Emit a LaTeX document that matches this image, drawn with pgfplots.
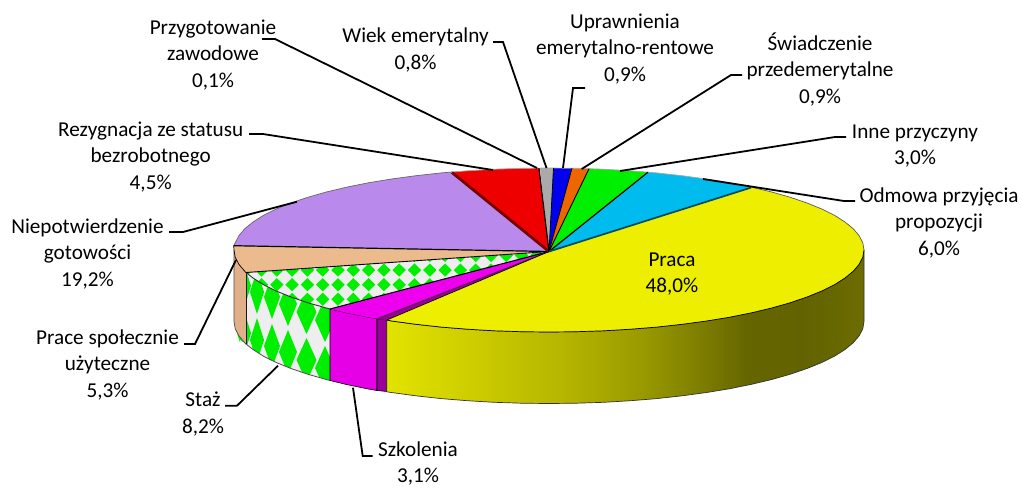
\documentclass[border=0pt]{standalone}
\usepackage{fontspec}
\setmainfont{Carlito}
\usepackage{pgfplots}
\pgfplotsset{compat=1.18}
\usetikzlibrary{patterns}
\definecolor{ys1}{HTML}{E3E300}
\definecolor{ys2}{HTML}{B6B600}
\definecolor{ys3}{HTML}{9A9A00}
\definecolor{ys4}{HTML}{7E7E00}
\definecolor{ys5}{HTML}{666600}
\definecolor{ys6}{HTML}{626200}
\definecolor{ys7}{HTML}{6C6C00}
\definecolor{cY}{HTML}{EEEE00}
\definecolor{cC}{HTML}{00BBEE}
\definecolor{cG}{HTML}{00EE00}
\definecolor{cO}{HTML}{EE6600}
\definecolor{cB}{HTML}{0000EE}
\definecolor{cS}{HTML}{AAAAAA}
\definecolor{cR}{HTML}{EE0000}
\definecolor{cRd}{HTML}{740000}
\definecolor{cP}{HTML}{B98AEB}
\definecolor{cT}{HTML}{EBBB8D}
\definecolor{cTs}{HTML}{E2B088}
\definecolor{cM}{HTML}{EE00EE}
\definecolor{cMs}{HTML}{E600E6}
\definecolor{cMd}{HTML}{990099}
\definecolor{cW}{HTML}{EEEEEE}
\pgfdeclarehorizontalshading{yellowside}{100bp}{color(0bp)=(ys1);color(25bp)=(ys1);color(43.2bp)=(ys2);color(51.6bp)=(ys3);color(57.8bp)=(ys4);color(62.6bp)=(ys5);color(68.3bp)=(ys6);color(75bp)=(ys7);color(100bp)=(ys7)}
\pgfdeclarepatternformonly{topdiamonds}{\pgfpoint{-10bp}{-10bp}}{\pgfpoint{26bp}{26bp}}{\pgfpoint{15.3bp}{14.6bp}}{%
  \pgfpathmoveto{\pgfpoint{8.1bp}{14.3bp}}%
  \pgfpathlineto{\pgfpoint{1.4bp}{20.9bp}}%
  \pgfpathlineto{\pgfpoint{-5.3bp}{14.3bp}}%
  \pgfpathlineto{\pgfpoint{1.4bp}{7.7bp}}%
  \pgfpathclose\pgfusepath{fill}}
\begin{document}
\begin{tikzpicture}
\begin{axis}[scale only axis,width=1022bp,height=484bp,xmin=0,xmax=1022,ymin=0,ymax=484,y dir=reverse,hide axis,clip=false,
  nodes={font=\fontsize{21.2bp}{26.5bp}\selectfont,align=center,text=black}]
% page
\addplot[fill=white,draw=none] coordinates {(0,0) (1022,0) (1022,484) (0,484)} -- cycle;
% Staz side
\addplot[fill=cW,draw=none] coordinates {(246,272.5) (253,278) (263.5,284.7) (276.2,291) (291,297) (307.7,302.7) (326.3,308) (330,309) (330,380.5) (326.3,379.5) (307.7,374.2) (291,368.5) (276.2,362.5) (263.5,356.2) (253,349.5) (246,344)} -- cycle;
\addplot[fill=cG,draw=none] coordinates {(244,264) (251,286) (244,308) (237,286)} -- cycle;
\addplot[fill=cG,draw=none] coordinates {(244,311) (251,333) (244,355) (237,333)} -- cycle;
\addplot[fill=cG,draw=none] coordinates {(257,270) (264,292) (257,314) (250,292)} -- cycle;
\addplot[fill=cG,draw=none] coordinates {(257,318) (264,340) (257,362) (250,340)} -- cycle;
\addplot[fill=cG,draw=none] coordinates {(272,275) (280,297) (272,319) (264,297)} -- cycle;
\addplot[fill=cG,draw=none] coordinates {(272,324) (280,346) (272,368) (264,346)} -- cycle;
\addplot[fill=cG,draw=none] coordinates {(288,282) (297,304) (288,326) (279,304)} -- cycle;
\addplot[fill=cG,draw=none] coordinates {(288,330) (297,352) (288,374) (279,352)} -- cycle;
\addplot[fill=cG,draw=none] coordinates {(306.5,290) (316.5,312) (306.5,334) (296.5,312)} -- cycle;
\addplot[fill=cG,draw=none] coordinates {(306.5,338) (316.5,360) (306.5,382) (296.5,360)} -- cycle;
\addplot[fill=cG,draw=none] coordinates {(325,298) (335,320) (325,342) (315,320)} -- cycle;
\addplot[fill=cG,draw=none] coordinates {(325,346) (335,368) (325,390) (315,368)} -- cycle;
% cover under the Staz side
\addplot[fill=white,draw=none] coordinates {(240,340) (246,344) (253,349.5) (263.5,356.2) (276.2,362.5) (291,368.5) (307.7,374.2) (326.3,379.5) (340,383) (340,410) (240,410)} -- cycle;
\addplot[draw=black!70,line width=0.8bp] coordinates {(246,344) (253,349.5) (263.5,356.2) (276.2,362.5) (291,368.5) (307.7,374.2) (326.3,379.5) (330,380.5)};
\addplot[draw=black,line width=0.9bp] coordinates {(246,272.5) (246,344)};
% Tan side
\addplot[fill=cTs,draw=none] coordinates {(234,250) (235.2,257.2) (238.8,264.2) (244.7,271.2) (246,272.5) (246,344) (244.7,342.7) (238.8,335.7) (235.2,328.7) (234,321.5)} -- cycle;
\addplot[draw=black!70,line width=0.7bp] coordinates {(234,250) (234,321.5) (235.2,328.7) (238.8,335.7) (244.7,342.7) (246,344)};
% Magenta side
\addplot[fill=cMs,draw=black,line width=0.6bp] coordinates {(330,309) (346.5,312.8) (368.3,317.2) (377,318.7) (377,390.5) (368.3,389) (346.5,384.5) (330,380.5)} -- cycle;
\addplot[fill=cMd,draw=black,line width=0.6bp] coordinates {(377,318.7) (386.8,320) (386.8,391.5) (377,390.5)} -- cycle;
% Yellow side
\addplot[shade,shading=yellowside,draw=black!80,line width=0.7bp] coordinates {(386.8,320) (391.5,321) (415.9,324.3) (441.3,327.1) (467.5,329.2) (494.3,330.8) (521.5,331.7) (549,332) (576.5,331.7) (603.7,330.8) (630.5,329.2) (656.7,327.1) (682.1,324.3) (706.5,321) (729.7,317.2) (751.5,312.8) (771.7,308) (790.3,302.7) (807,297) (821.8,291) (834.5,284.7) (845,278) (853.3,271.2) (859.2,264.2) (862.8,257.2) (864,250) (864,321.5) (862.8,328.7) (859.2,335.7) (853.3,342.7) (845,349.5) (834.5,356.2) (821.8,362.5) (807,368.5) (790.3,374.2) (771.7,379.5) (751.5,384.3) (729.7,388.7) (706.5,392.5) (682.1,395.8) (656.7,398.6) (630.5,400.7) (603.7,402.3) (576.5,403.2) (549,403.5) (521.5,403.2) (494.3,402.3) (467.5,400.7) (441.3,398.6) (415.9,395.8) (391.5,392.5) (386.8,391.8)} -- cycle;
% Top surfaces
\addplot[fill=cP,draw=none] coordinates {(549,251.5) (452,172) (441.3,172.9) (415.9,175.7) (391.5,179) (368.3,182.8) (346.5,187.2) (326.3,192) (307.7,197.3) (291,203) (276.2,209) (263.5,215.3) (253,222) (244.7,228.8) (238.8,235.8) (235.2,242.8) (233.7,245.7)} -- cycle;
\addplot[fill=cT,draw=none] coordinates {(549,251.5) (233.7,245.7) (234,250) (235.2,257.2) (238.8,264.2) (244.7,271.2) (246,272.5)} -- cycle;
\addplot[fill=cW,draw=none] coordinates {(549,251.5) (246,272.5) (253,278) (263.5,284.7) (276.2,291) (291,297) (307.7,302.7) (326.3,308) (330,309)} -- cycle;
\addplot[pattern=topdiamonds,pattern color=cG,draw=none] coordinates {(549,251.5) (246,272.5) (253,278) (263.5,284.7) (276.2,291) (291,297) (307.7,302.7) (326.3,308) (330,309)} -- cycle;
\addplot[fill=cM,draw=none] coordinates {(549,251.5) (330,309) (346.5,312.8) (368.3,317.2) (377,318.7)} -- cycle;
\addplot[fill=cMd,draw=none] coordinates {(549,251.5) (377,318.7) (386.8,320)} -- cycle;
\addplot[fill=cR,draw=none] coordinates {(549,251.5) (539,168.2) (521.5,168.3) (494.3,169.2) (467.5,170.8) (452,172)} -- cycle;
\addplot[fill=cS,draw=none] coordinates {(549,251.5) (553.5,168) (540,168)} -- cycle;
\addplot[fill=cB,draw=none] coordinates {(549,251.5) (572,168.2) (553.5,168)} -- cycle;
\addplot[fill=cO,draw=none] coordinates {(549,251.5) (589,168.7) (576.5,168.3) (572,168.2)} -- cycle;
\addplot[fill=cG,draw=none] coordinates {(549,251.5) (648,172.2) (630.5,170.8) (603.7,169.2) (589,168.7)} -- cycle;
\addplot[fill=cC,draw=none] coordinates {(549,251.5) (751.5,187.2) (729.7,182.8) (706.5,179) (682.1,175.7) (656.7,172.9) (648,172.2)} -- cycle;
\addplot[fill=cY,draw=none] coordinates {(549,251.5) (751.5,187.2) (771.7,192) (790.3,197.3) (807,203) (821.8,209) (834.5,215.3) (845,222) (853.3,228.8) (859.2,235.8) (862.8,242.8) (864,250) (862.8,257.2) (859.2,264.2) (853.3,271.2) (845,278) (834.5,284.7) (821.8,291) (807,297) (790.3,302.7) (771.7,308) (751.5,312.8) (729.7,317.2) (706.5,321) (682.1,324.3) (656.7,327.1) (630.5,329.2) (603.7,330.8) (576.5,331.7) (549,332) (521.5,331.7) (494.3,330.8) (467.5,329.2) (441.3,327.1) (415.9,324.3) (391.5,321) (386.8,320)} -- cycle;
% Outer rim of the top
\addplot[draw=black!60,line width=0.7bp] coordinates {(233.7,245.7) (235.2,242.8) (238.8,235.8) (244.7,228.8) (253,222) (263.5,215.3) (276.2,209) (291,203) (307.7,197.3) (326.3,192) (346.5,187.2) (368.3,182.8) (391.5,179) (415.9,175.7) (441.3,172.9) (452,172)};
\addplot[draw=black!35,line width=0.7bp] coordinates {(452,172) (467.5,170.8) (494.3,169.2) (521.5,168.3) (549,168) (576.5,168.3) (603.7,169.2) (630.5,170.8) (656.7,172.9) (682.1,175.7) (706.5,179) (729.7,182.8) (751.5,187.2)};
\addplot[draw=black!65,line width=0.7bp] coordinates {(751.5,187.2) (771.7,192) (790.3,197.3) (807,203) (821.8,209) (834.5,215.3) (845,222) (853.3,228.8) (859.2,235.8) (862.8,242.8) (864,250)};
\addplot[draw=black,line width=0.7bp] coordinates {(233.7,245.7) (234,250) (235.2,257.2) (238.8,264.2) (244.7,271.2) (246,272.5)};
\addplot[draw=black!80,line width=0.9bp] coordinates {(246,272.5) (253,278) (263.5,284.7) (276.2,291) (291,297) (307.7,302.7) (326.3,308) (330,309)};
\addplot[draw=black,line width=0.7bp] coordinates {(386.8,320) (391.5,321) (415.9,324.3) (441.3,327.1) (467.5,329.2) (494.3,330.8) (521.5,331.7) (549,332) (576.5,331.7) (603.7,330.8) (630.5,329.2) (656.7,327.1) (682.1,324.3) (706.5,321) (729.7,317.2) (751.5,312.8) (771.7,308) (790.3,302.7) (807,297) (821.8,291) (834.5,284.7) (845,278) (853.3,271.2) (859.2,264.2) (862.8,257.2) (864,250)};
% Radii
\addplot[draw=black,line width=1.2bp] coordinates {(549,251.5) (233.7,245.7)};
\addplot[draw=black,line width=0.9bp] coordinates {(549,251.5) (246,272.5)};
\addplot[draw=black,line width=1.1bp] coordinates {(549,251.5) (330,309)};
\addplot[draw=black!80,line width=0.7bp] coordinates {(549,251.5) (377,318.7)};
\addplot[draw=black,line width=0.7bp] coordinates {(549,251.5) (386.8,320)};
\addplot[draw=cRd,line width=2.8bp] coordinates {(549,251.5) (452,172.5)};
\addplot[draw=black,line width=1.2bp] coordinates {(549,251.5) (539,168.2)};
\addplot[draw=black,line width=0.8bp] coordinates {(549,251.5) (553.5,168)};
\addplot[draw=black,line width=0.8bp] coordinates {(549,251.5) (572,168.2)};
\addplot[draw=black,line width=0.9bp] coordinates {(549,251.5) (589,168.7)};
\addplot[draw=black,line width=1.2bp] coordinates {(549,251.5) (648,172.2)};
\addplot[draw=black!60!cC,line width=1.7bp] coordinates {(549,251.5) (751,187.6)};
% Leader lines
\addplot[draw=black,line width=1.8bp] coordinates {(262,39) (275,39) (537,168)};
\addplot[draw=black,line width=1.8bp] coordinates {(493,42) (503,42) (546.5,168)};
\addplot[draw=black,line width=1.8bp] coordinates {(585,88) (573,88) (563,168)};
\addplot[draw=black,line width=1.8bp] coordinates {(742,75) (731,75) (581.7,169)};
\addplot[draw=black,line width=1.8bp] coordinates {(846,137) (835,137) (620,171)};
\addplot[draw=black,line width=1.8bp] coordinates {(855,201) (844,201) (703,179)};
\addplot[draw=black,line width=1.8bp] coordinates {(169,232) (183,232) (297,201.7)};
\addplot[draw=black,line width=1.8bp] coordinates {(249,134) (263,134) (493,170)};
\addplot[draw=black,line width=1.8bp] coordinates {(184,344) (195,344) (236,260)};
\addplot[draw=black,line width=1.8bp] coordinates {(225,405.7) (237,405.7) (278,365.7)};
\addplot[draw=black,line width=1.8bp] coordinates {(372.7,456) (362.7,456) (353,387.7)};
% Labels
\node at (213,54.7) {Przygotowanie\\zawodowe\\0,1\%};
\node at (415.5,50) {Wiek emerytalny\\0,8\%};
\node at (625,49) {Uprawnienia\\emerytalno-rentowe\\0,9\%};
\node at (820,69.5) {Świadczenie\\przedemerytalne\\0,9\%};
\node at (915,146.2) {Inne przyczyny\\3,0\%};
\node at (939,222.7) {Odmowa przyjęcia\\propozycji\\6,0\%};
\node at (150.7,156.7) {Rezygnacja ze statusu\\bezrobotnego\\4,5\%};
\node at (87.5,253.7) {Niepotwierdzenie\\gotowości\\19,2\%};
\node at (107.5,364.7) {Prace społecznie\\użyteczne\\5,3\%};
\node at (203,414) {Staż\\8,2\%};
\node at (418,463.5) {Szkolenia\\3,1\%};
\node at (672,274.2) {Praca\\48,0\%};
\end{axis}
\end{tikzpicture}
\end{document}
